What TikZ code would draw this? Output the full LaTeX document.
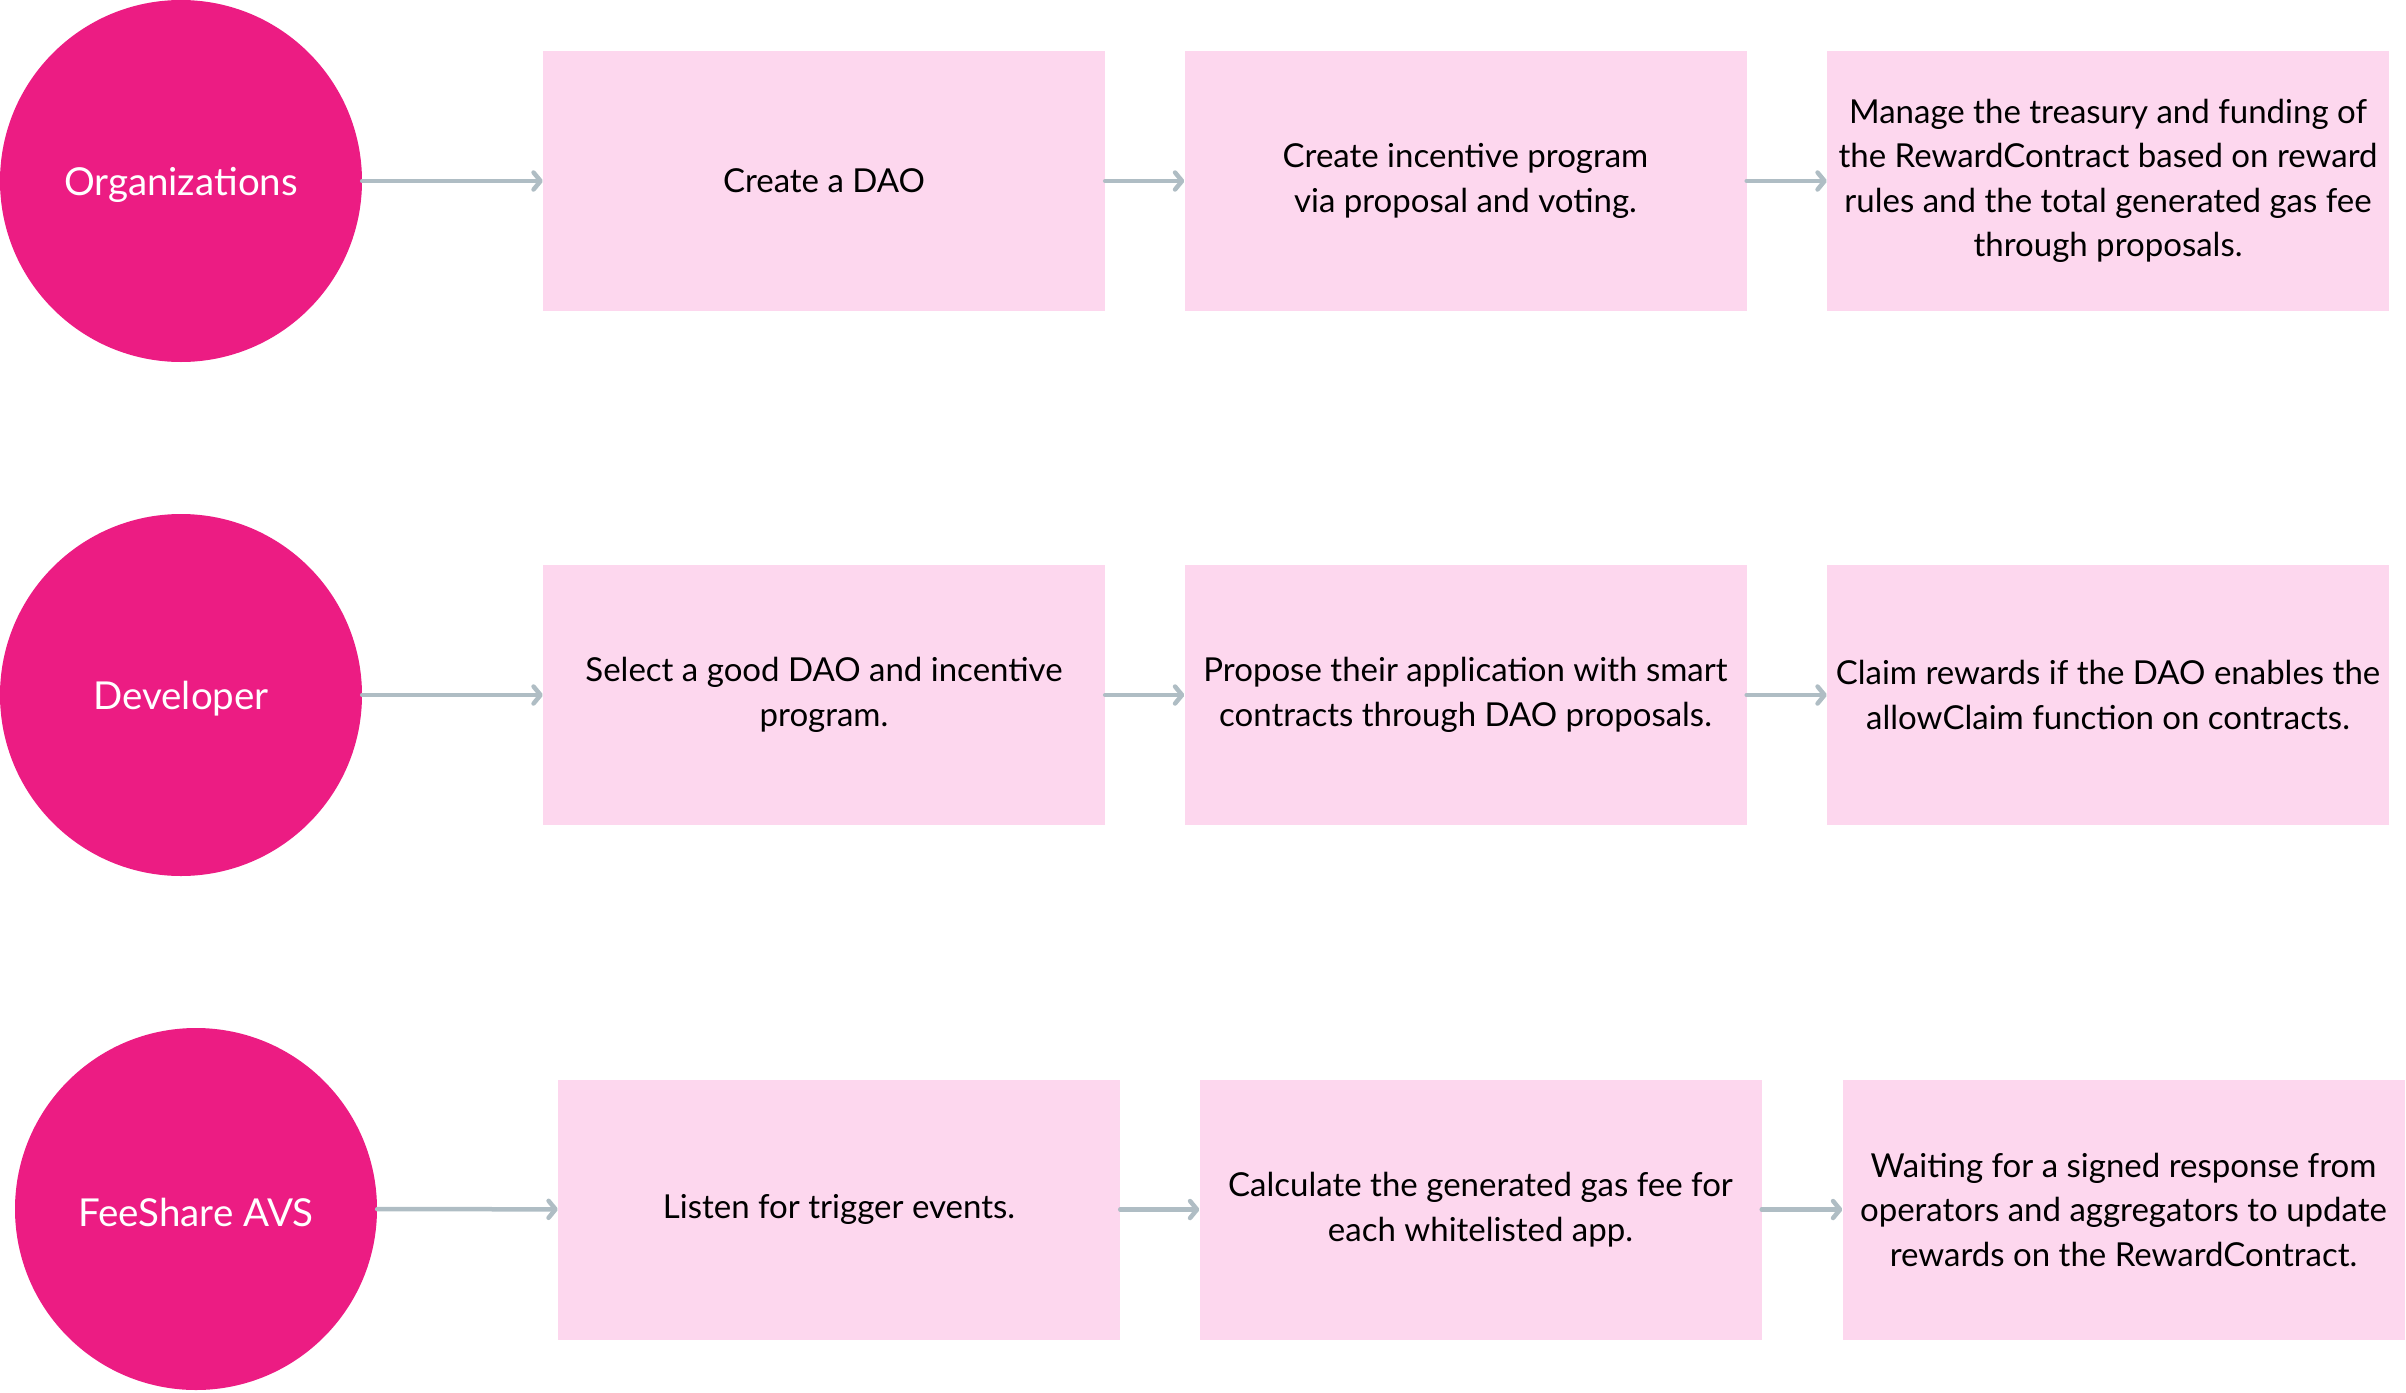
\documentclass[tikz,border=0pt]{standalone}
\usepackage{fontspec}
\setmainfont{Lato}
\usetikzlibrary{arrows.meta}
\definecolor{magentac}{HTML}{EC1C83}
\definecolor{boxc}{HTML}{FDD7EE}
\definecolor{arrc}{HTML}{AFBDC4}
\begin{document}
\begin{tikzpicture}[x=1pt,y=-1pt,
  actor/.style={circle,fill=magentac,minimum size=362pt,inner sep=0pt,text=white,font=\fontsize{38.5}{44}\selectfont,execute at begin node={\rule{0pt}{36pt}}},
  stepbox/.style={rectangle,fill=boxc,minimum width=562pt,minimum height=260pt,inner sep=0pt,align=center,text=black,font=\fontsize{33}{44.5}\selectfont,execute at begin node={\vspace*{6pt}}},
  flow/.style={draw=arrc,line width=4.5pt,line cap=round,-{Straight Barb[length=7pt,width=17pt,line cap=round,line join=round]}}]
\useasboundingbox (0,0) rectangle (2406,1392);
% row 1
\node[actor] (o) at (181,181) {Organizations};
\node[stepbox] (a1) at (824,181) {Create a DAO};
\node[stepbox] (a2) at (1465.5,181) {Create incentive program\\via proposal and voting.};
\node[stepbox] (a3) at (2108,181) {Manage the treasury and funding of\\the RewardContract based on reward\\rules and the total generated gas fee\\through proposals.};
% row 2
\node[actor] (d) at (181,695) {Developer};
\node[stepbox] (b1) at (824,695) {Select a good DAO and incentive\\program.};
\node[stepbox] (b2) at (1465.5,695) {Propose their application with smart\\contracts through DAO proposals.};
\node[stepbox] (b3) at (2108,695) {Claim rewards if the DAO enables the\\allowClaim function on contracts.};
% row 3
\node[actor] (f) at (196,1209) {FeeShare AVS};
\node[stepbox] (c1) at (839,1209.5) {Listen for trigger events.};
\node[stepbox] (c2) at (1480.5,1209.5) {Calculate the generated gas fee for\\each whitelisted app.};
\node[stepbox] (c3) at (2123.5,1209.5) {Waiting for a signed response from\\operators and aggregators to update\\rewards on the RewardContract.};
% connectors
\draw[flow] (o) -- (a1);
\draw[flow] (a1) -- (a2);
\draw[flow] (a2) -- (a3);
\draw[flow] (d) -- (b1);
\draw[flow] (b1) -- (b2);
\draw[flow] (b2) -- (b3);
\draw[flow] (f) -- (c1);
\draw[flow] (c1) -- (c2);
\draw[flow] (c2) -- (c3);
\end{tikzpicture}
\end{document}
